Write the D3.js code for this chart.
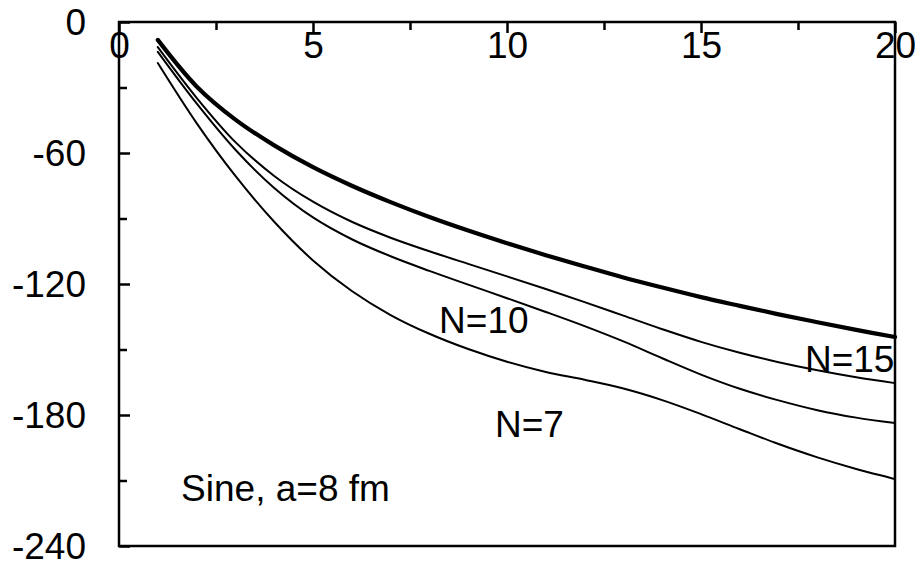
<!DOCTYPE html>
<html>
<head>
<meta charset="utf-8">
<script src="https://cdn.jsdelivr.net/npm/d3@7"></script>
<style>
  body { margin: 0; background: #fff; }
  text { font-family: "Liberation Sans", Arial, sans-serif; }
</style>
</head>
<body>
<div id="chart"></div>
<script>
// x values shared by every curve
var xs = [1, 2, 3, 4, 5, 6, 7, 8, 9, 10, 11, 12, 13, 14, 15, 16, 17, 18, 19, 20];

// (thick line on top, then thin lines downwards)
var thick = [-8.2, -29.5, -44.7, -56.5, -66.5, -75, -82.5, -89.3, -95.5, -101.3, -106.8, -112, -117, -121.6, -126, -130, -133.9, -137.5, -141, -144.3];
var n15 = [-11.5, -34.7, -55, -70.5, -82.3, -91.5, -98.8, -105, -110.8, -116.5, -122.3, -128.3, -134.5, -140.7, -146.5, -151.5, -155.8, -159.5, -162.7, -165.4];
var n10 = [-13.7, -37.3, -58.5, -76, -89.5, -99.5, -107.3, -114, -120.3, -126.5, -132.8, -139.3, -146.3, -154, -161.5, -168, -173.3, -177.8, -181.2, -183.7];
var n7 = [-18.8, -46.3, -70.5, -91.5, -109.2, -123.2, -134.2, -142.8, -149.8, -155.6, -160.3, -163.9, -167.9, -173.2, -179.6, -186.5, -193.3, -199.4, -204.7, -209.3];

var xTicks = [0, 5, 10, 15, 20];
var xMinor = [2.5, 7.5, 12.5, 17.5];
var yTicks = [0, -60, -120, -180, -240];
var yMinor = [-30, -90, -150, -210];

var labels = ["N=15", "N=10", "N=7", "Sine, a=8 fm"];

var W = 918, H = 563;
var svg = d3.select("#chart").append("svg")
    .attr("width", W)
    .attr("height", H);

var x = d3.scaleLinear().domain([0, 20]).range([119, 895]);
var y = d3.scaleLinear().domain([-240, 0]).range([546, 22]);

var fmt = function(d) { return String(d); };

// top axis, ticks pointing in, labels under the line
var xMaj = d3.axisBottom(x).tickValues(xTicks).tickSizeInner(11).tickSizeOuter(0).tickFormat(fmt);
var xMin = d3.axisBottom(x).tickValues(xMinor).tickSizeInner(8).tickSizeOuter(0).tickFormat("");

var gx = svg.append("g").attr("transform", "translate(0," + y(0) + ")").call(xMaj);
svg.append("g").attr("transform", "translate(0," + y(0) + ")").call(xMin);

var yMaj = d3.axisLeft(y).tickValues(yTicks).tickSizeInner(-11).tickSizeOuter(0).tickPadding(33).tickFormat(fmt);
var yMin = d3.axisLeft(y).tickValues(yMinor).tickSizeInner(-8).tickSizeOuter(0).tickFormat("");

var gy = svg.append("g").attr("transform", "translate(" + x(0) + ",0)").call(yMaj);
svg.append("g").attr("transform", "translate(" + x(0) + ",0)").call(yMin);

svg.selectAll(".domain").remove();
svg.selectAll(".tick line").attr("stroke", "#000").attr("stroke-width", 2.5);
svg.selectAll(".tick text").attr("fill", "#000").style("font-size", "37px");
gx.selectAll(".tick text").attr("y", 36).attr("dy", null);
gy.selectAll(".tick text").attr("dy", "0.33em");

// frame
svg.append("rect")
    .attr("x", x(0)).attr("y", y(0))
    .attr("width", x(20) - x(0)).attr("height", y(-240) - y(0))
    .attr("fill", "none").attr("stroke", "#000").attr("stroke-width", 2.5);

var line = d3.line()
    .x(function(d) { return x(d[0]); })
    .y(function(d) { return y(d[1]); })
    .curve(d3.curveCatmullRom.alpha(0.5));

var series = [
  {vals: n7, w: 2},
  {vals: n10, w: 2},
  {vals: n15, w: 2},
  {vals: thick, w: 4.2}
];

series.forEach(function(s) {
  svg.append("path")
      .datum(xs.map(function(v, i) { return [v, s.vals[i]]; }))
      .attr("d", line)
      .attr("fill", "none")
      .attr("stroke", "#000")
      .attr("stroke-width", s.w)
      .attr("stroke-linejoin", "round")
      .attr("stroke-linecap", "round");
});

// annotations
var pos = [[17.68, -160.3], [8.25, -142.4], [9.69, -189.9], [1.6, -219.4]];
svg.selectAll(".lbl")
    .data(labels)
    .enter().append("text")
    .attr("class", "lbl")
    .attr("x", function(d, i) { return x(pos[i][0]); })
    .attr("y", function(d, i) { return y(pos[i][1]); })
    .style("font-size", "37px")
    .attr("fill", "#000")
    .text(function(d) { return d; });
</script>
</body>
</html>
